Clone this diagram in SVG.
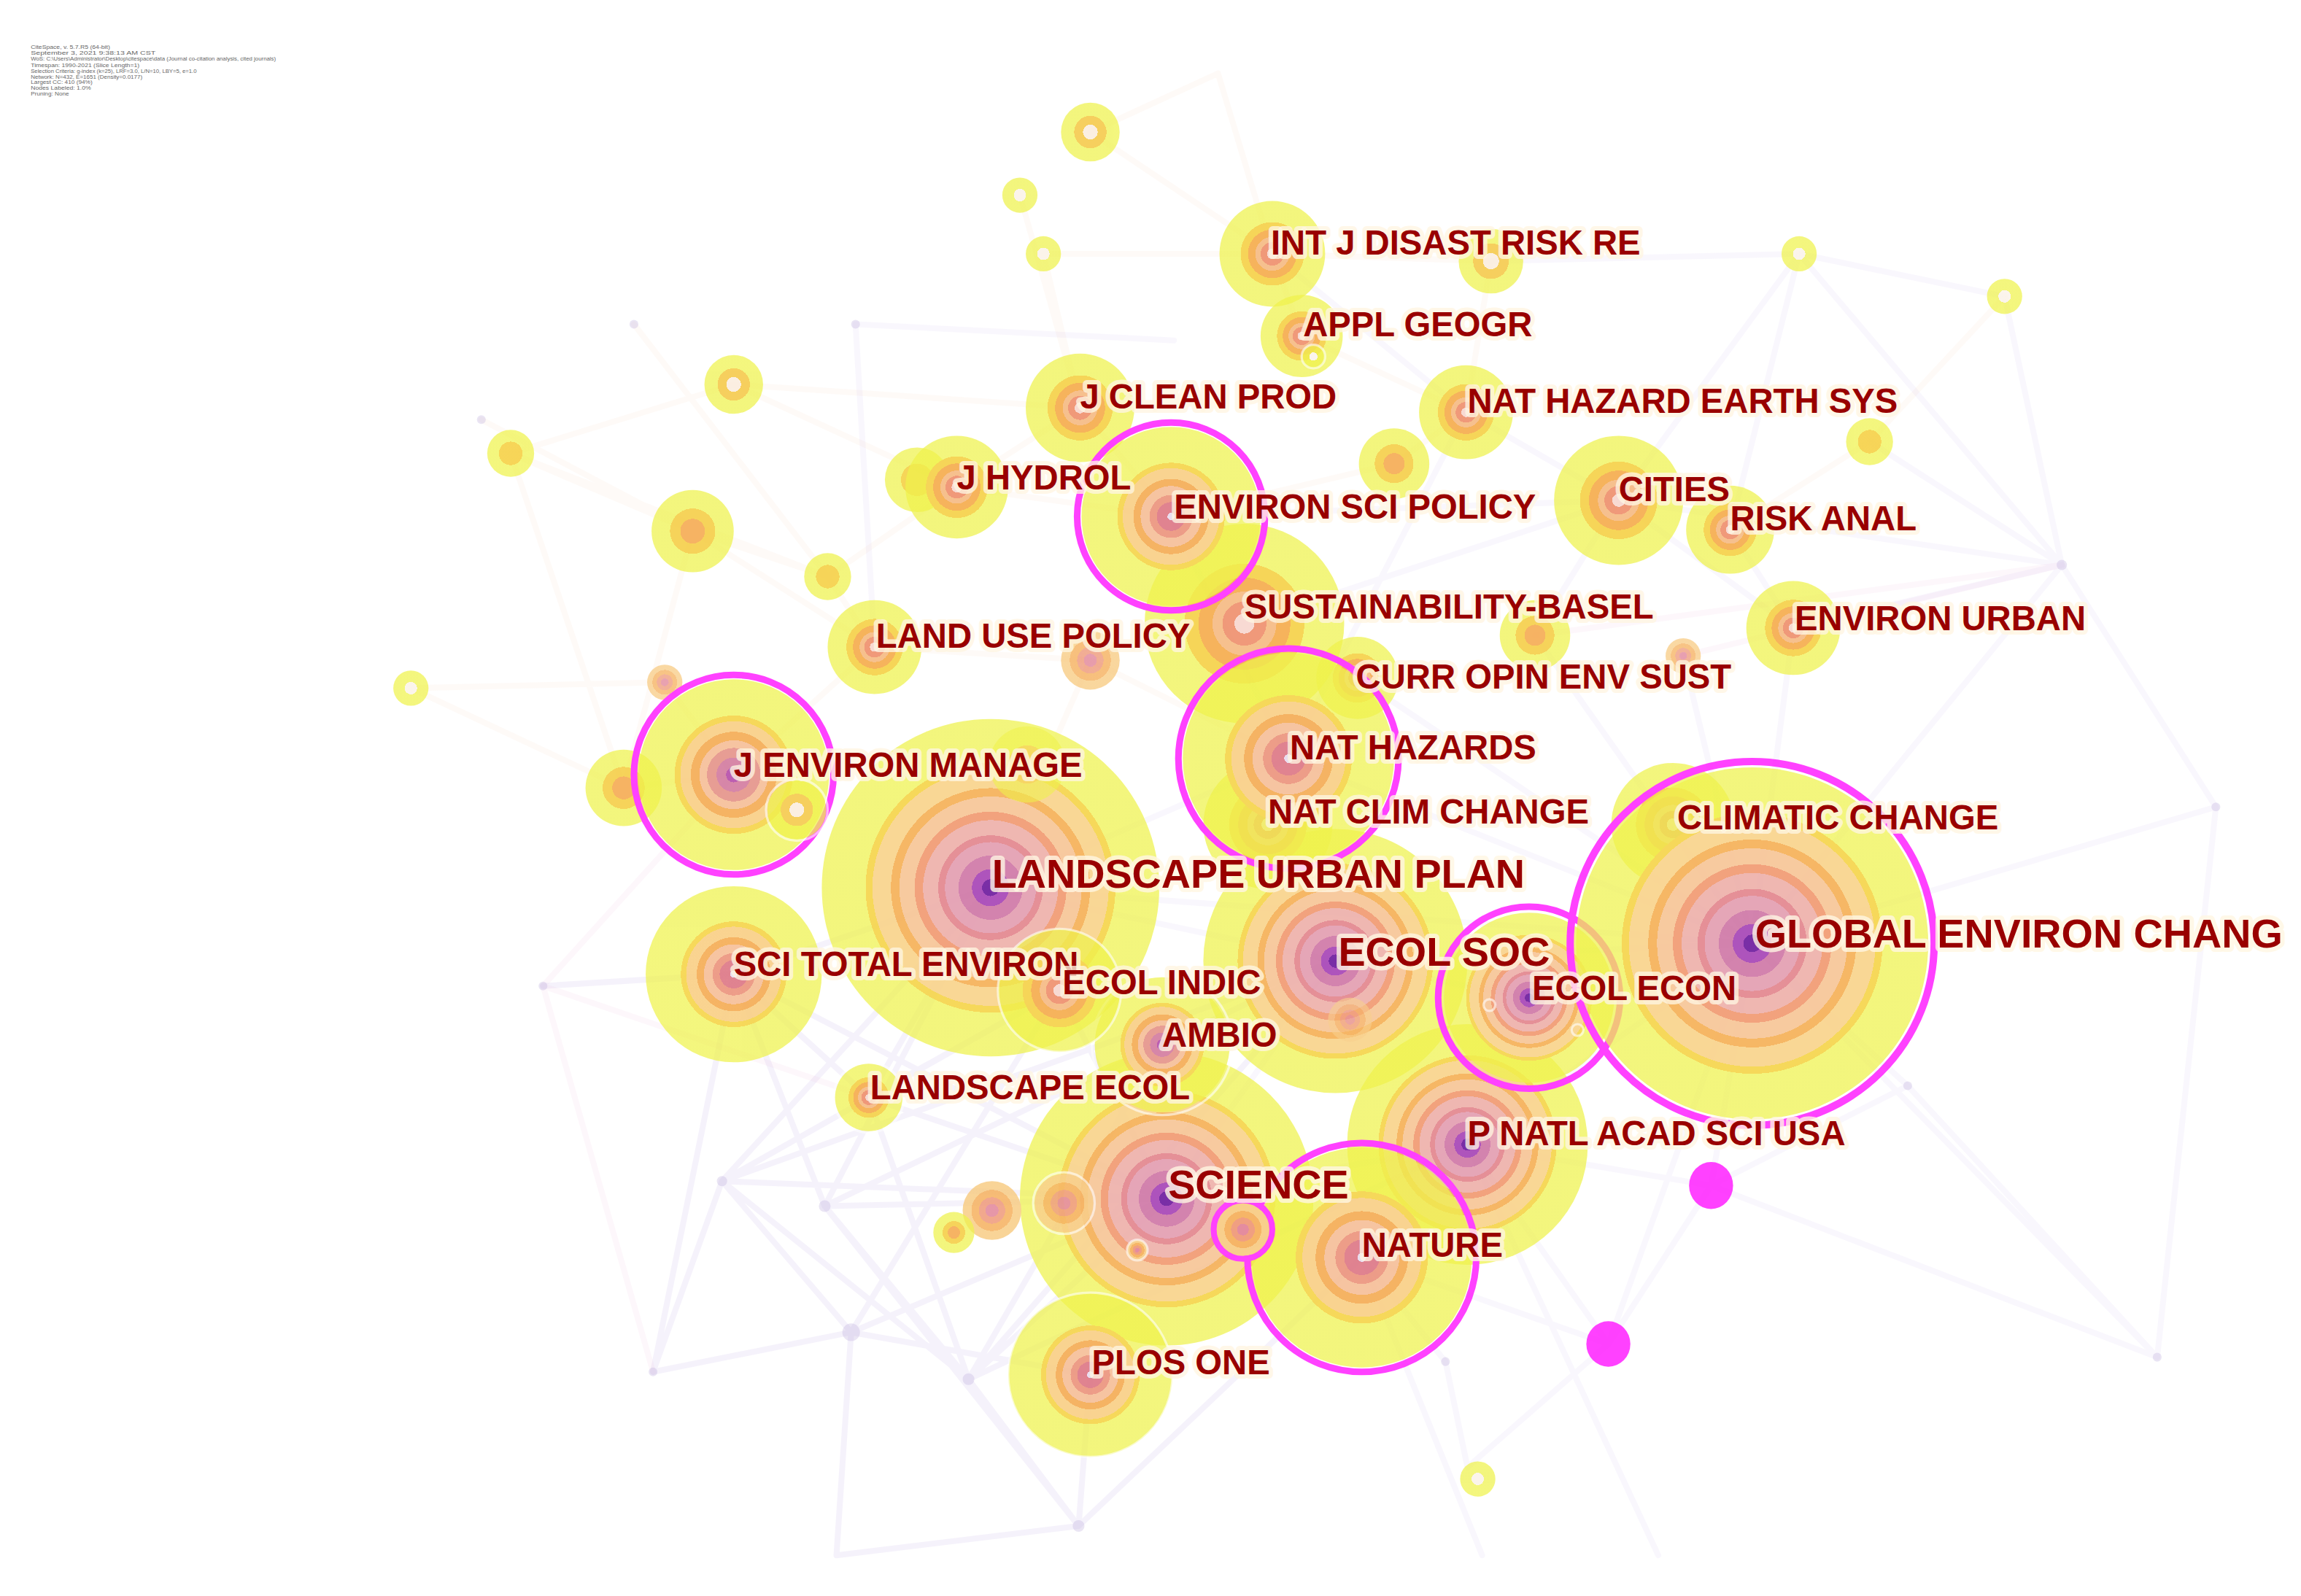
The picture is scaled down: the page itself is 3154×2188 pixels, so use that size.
<svg xmlns="http://www.w3.org/2000/svg" width="3154" height="2188" viewBox="0 0 3154 2188">
<style>
.e{fill:none;stroke-width:4;stroke-linecap:round}
.lav{stroke:#c4b4ea;stroke-opacity:.1}
.lav2{stroke:#bcaae6;stroke-opacity:.15}
.pch{stroke:#f6d6b4;stroke-opacity:.11}
.pnk{stroke:#f0b4d4;stroke-opacity:.1}
.jd{fill:#bba9dc;fill-opacity:.3}
.ring{fill:none;stroke:#ff33ff}
.wr{fill:none;stroke:#ffffff;stroke-opacity:.6;stroke-width:1.6}
.mag{fill:#ff33ff}
.nd{opacity:.93}
.lbl{font-family:"Liberation Sans",Arial,sans-serif;font-weight:bold;fill:#990000;stroke:#fff6e2;stroke-opacity:.8;stroke-width:6;stroke-linejoin:round;paint-order:stroke}
.s{font-size:23.5px}
.b{font-size:27.7px}
.hd{font-family:"Liberation Sans",Arial,sans-serif;font-size:3.6px;fill:#666}
</style>
<defs>
<radialGradient id="gOld">
<stop offset="0" stop-color="#7020a0"/><stop offset=".05" stop-color="#7020a0"/>
<stop offset=".05" stop-color="#a848b8"/><stop offset=".11" stop-color="#a848b8"/>
<stop offset=".11" stop-color="#d07aa8"/><stop offset=".19" stop-color="#d07aa8"/>
<stop offset=".19" stop-color="#e4a0b2"/><stop offset=".27" stop-color="#e4a0b2"/>
<stop offset=".27" stop-color="#e48890"/><stop offset=".31" stop-color="#e48890"/>
<stop offset=".31" stop-color="#eeb2ac"/><stop offset=".4" stop-color="#eeb2ac"/>
<stop offset=".4" stop-color="#f29c74"/><stop offset=".45" stop-color="#f29c74"/>
<stop offset=".45" stop-color="#f7c698"/><stop offset=".54" stop-color="#f7c698"/>
<stop offset=".54" stop-color="#f6b25a"/><stop offset=".59" stop-color="#f6b25a"/>
<stop offset=".59" stop-color="#f9d48e"/><stop offset=".7" stop-color="#f9d48e"/>
<stop offset=".7" stop-color="#f6d64e"/><stop offset=".74" stop-color="#f6d64e"/>
<stop offset=".74" stop-color="#eef23e" stop-opacity=".72"/><stop offset="1" stop-color="#eef23e" stop-opacity=".72"/>
</radialGradient>
<radialGradient id="gMid">
<stop offset="0" stop-color="#eadcf0"/><stop offset=".04" stop-color="#eadcf0"/>
<stop offset=".04" stop-color="#de7a88"/><stop offset=".16" stop-color="#de7a88"/>
<stop offset=".16" stop-color="#ec9680"/><stop offset=".24" stop-color="#ec9680"/>
<stop offset=".24" stop-color="#f6c09a"/><stop offset=".34" stop-color="#f6c09a"/>
<stop offset=".34" stop-color="#f5ae58"/><stop offset=".42" stop-color="#f5ae58"/>
<stop offset=".42" stop-color="#f9d088"/><stop offset=".54" stop-color="#f9d088"/>
<stop offset=".54" stop-color="#f6d64e"/><stop offset=".6" stop-color="#f6d64e"/>
<stop offset=".6" stop-color="#eef23e" stop-opacity=".72"/><stop offset="1" stop-color="#eef23e" stop-opacity=".72"/>
</radialGradient>
<radialGradient id="gMidP">
<stop offset="0" stop-color="#b852ac"/><stop offset=".08" stop-color="#b852ac"/>
<stop offset=".08" stop-color="#d47ea2"/><stop offset=".18" stop-color="#d47ea2"/>
<stop offset=".18" stop-color="#e6968c"/><stop offset=".28" stop-color="#e6968c"/>
<stop offset=".28" stop-color="#f6c09a"/><stop offset=".36" stop-color="#f6c09a"/>
<stop offset=".36" stop-color="#f5ae58"/><stop offset=".45" stop-color="#f5ae58"/>
<stop offset=".45" stop-color="#f9d088"/><stop offset=".56" stop-color="#f9d088"/>
<stop offset=".56" stop-color="#f6d64e"/><stop offset=".62" stop-color="#f6d64e"/>
<stop offset=".62" stop-color="#eef23e" stop-opacity=".72"/><stop offset="1" stop-color="#eef23e" stop-opacity=".72"/>
</radialGradient>
<radialGradient id="gYoung">
<stop offset="0" stop-color="#f8d8d0"/><stop offset=".1" stop-color="#f8d8d0"/>
<stop offset=".1" stop-color="#ef9270"/><stop offset=".22" stop-color="#ef9270"/>
<stop offset=".22" stop-color="#f6bc86"/><stop offset=".32" stop-color="#f6bc86"/>
<stop offset=".32" stop-color="#f6ae50"/><stop offset=".46" stop-color="#f6ae50"/>
<stop offset=".46" stop-color="#f6d24c"/><stop offset=".6" stop-color="#f6d24c"/>
<stop offset=".6" stop-color="#eef23e" stop-opacity=".72"/><stop offset="1" stop-color="#eef23e" stop-opacity=".72"/>
</radialGradient>
<radialGradient id="gSO">
<stop offset="0" stop-color="#f6d24c"/><stop offset=".5" stop-color="#f6d24c"/>
<stop offset=".5" stop-color="#eef23e" stop-opacity=".72"/><stop offset="1" stop-color="#eef23e" stop-opacity=".72"/>
</radialGradient>
<radialGradient id="gSOO">
<stop offset="0" stop-color="#f6ae58"/><stop offset=".3" stop-color="#f6ae58"/>
<stop offset=".3" stop-color="#f6d04e"/><stop offset=".55" stop-color="#f6d04e"/>
<stop offset=".55" stop-color="#eef23e" stop-opacity=".72"/><stop offset="1" stop-color="#eef23e" stop-opacity=".72"/>
</radialGradient>
<radialGradient id="gSW">
<stop offset="0" stop-color="#fbf4ea"/><stop offset=".35" stop-color="#fbf4ea"/>
<stop offset=".35" stop-color="#eef23e" stop-opacity=".72"/><stop offset="1" stop-color="#eef23e" stop-opacity=".72"/>
</radialGradient>
<radialGradient id="gSWO">
<stop offset="0" stop-color="#fbeee0"/><stop offset=".25" stop-color="#fbeee0"/>
<stop offset=".25" stop-color="#f6cc52"/><stop offset=".55" stop-color="#f6cc52"/>
<stop offset=".55" stop-color="#eef23e" stop-opacity=".72"/><stop offset="1" stop-color="#eef23e" stop-opacity=".72"/>
</radialGradient>
<radialGradient id="gOP">
<stop offset="0" stop-color="#e28498"/><stop offset=".22" stop-color="#e28498"/>
<stop offset=".22" stop-color="#ef9878"/><stop offset=".45" stop-color="#ef9878"/>
<stop offset=".45" stop-color="#f6b05c"/><stop offset=".7" stop-color="#f6b05c"/>
<stop offset=".7" stop-color="#f8cc84"/><stop offset="1" stop-color="#f8cc84"/>
</radialGradient>
</defs>
<rect width="3154" height="2188" fill="#ffffff"/>
<g transform="scale(2.01148)">
<g id="header">
<text class="hd" x="21" y="33.3" textLength="54" lengthAdjust="spacingAndGlyphs">CiteSpace, v. 5.7.R5 (64-bit)</text>
<text class="hd" x="21" y="37.3" textLength="85" lengthAdjust="spacingAndGlyphs">September 3, 2021 9:38:13 AM CST</text>
<text class="hd" x="21" y="41.5" textLength="167" lengthAdjust="spacingAndGlyphs">WoS: C:\Users\Administrator\Desktop\citespace\data (Journal co-citation analysis, cited journals)</text>
<text class="hd" x="21" y="45.6" textLength="74" lengthAdjust="spacingAndGlyphs">Timespan: 1990-2021 (Slice Length=1)</text>
<text class="hd" x="21" y="49.6" textLength="113" lengthAdjust="spacingAndGlyphs">Selection Criteria: g-index (k=25), LRF=3.0, L/N=10, LBY=5, e=1.0</text>
<text class="hd" x="21" y="53.6" textLength="76" lengthAdjust="spacingAndGlyphs">Network: N=432, E=1651 (Density=0.0177)</text>
<text class="hd" x="21" y="57.3" textLength="42" lengthAdjust="spacingAndGlyphs">Largest CC: 410 (94%)</text>
<text class="hd" x="21" y="61.1" textLength="41" lengthAdjust="spacingAndGlyphs">Nodes Labeled: 1.0%</text>
<text class="hd" x="21" y="65" textLength="26" lengthAdjust="spacingAndGlyphs">Pruning: None</text>
</g>
<g id="connectors">
<path class="e lav2" d="M562 822L660 940M562 822L735 1040M562 822L795 817M562 822L675 605M562 822L500 664M492 805L580 908M492 805L660 940M492 805L675 605M492 805L722 675M492 805L795 817M580 908L795 817M580 908L743 937M580 908L570 1060M580 908L445 935M660 940L795 817M660 940L735 1040M660 940L592 748M660 940L910 655M735 1040L743 937M735 1040L928 857M735 1040L570 1060M445 935L492 805M445 935L500 664M370 672L500 664M592 748L795 817M592 748L675 605M592 748L722 675M592 748L500 664M500 664L795 817M500 664L675 605M722 675L795 817M792 712L660 940M580 908L722 675M562 822L910 655M660 940L1000 780M492 805L910 655"/>
<path class="e lav" d="M1405 385L1222 428M1405 385L1194 643M1405 385L1103 341M1405 385L1226 173M1405 385L1366 202M1405 385L1274 301M1405 385L1510 550M1226 173L1103 341M1226 173L1179 361M1226 173L1366 202M1510 550L1194 643M1510 550L1470 925M1470 925L1194 643M1470 925L1166 808M1300 740L1470 925M1300 740L1194 643M1166 808L1000 780M1166 808L1194 643M1166 808L1096 916M1096 916L928 857M1096 916L1000 780M1096 916L1194 643M985 928L928 857M985 928L1000 1000M1000 1000L1096 916M1000 780L1130 1060M928 857L1010 1060M1300 740L1166 808"/>
<path class="e lav" d="M675 605L910 655M675 605L1194 643M910 655L1194 643M910 655L1042 680M795 817L1000 780M795 817L910 655M1000 780L1194 643M878 517L1194 643M878 517L675 605M798 352L878 517M798 352L1103 341M848 425L1103 341M1103 341L1222 428M1222 428L1194 643M1046 433L1194 643M925 462L1194 643M1147 447L1194 643M1046 433L1103 341M999 281L1103 341M999 281L878 517M1179 361L1222 428M583 221L800 232M583 221L596 441M867 173L999 281M1016 178L1226 173"/>
<path class="e pch" d="M348 309L500 262M348 309L472 362M348 309L564 393M500 262L652 332M472 362L564 393M472 362L596 441M564 393L652 332M564 393L596 441M280 469L453 465M280 469L425 537M453 465L500 528M425 537L500 528M425 537L472 362M348 309L425 537M500 262L736 278M596 441L743 450M596 441L500 528M743 450L878 517M743 450L675 605M432 221L564 393M328 286L472 362M867 173L1016 178M867 173L887 229M743 90L867 173M695 133L736 278M711 173L736 278M711 173L867 173M743 90L830 50M1016 178L999 281M887 229L999 281M736 278L798 352M652 332L798 352M652 332L736 278M950 316L798 352M950 316L999 281M1274 301L1179 361M1366 202L1274 301M830 50L867 173"/>
<path class="e pnk" d="M370 672L592 748M445 935L370 672M1405 385L1046 433M1405 385L1147 447M370 672L500 528"/>
<circle class="jd" cx="1405" cy="385" r="3.5"/><circle class="jd" cx="580" cy="908" r="6"/><circle class="jd" cx="660" cy="940" r="4"/><circle class="jd" cx="562" cy="822" r="4"/><circle class="jd" cx="492" cy="805" r="3.5"/><circle class="jd" cx="735" cy="1040" r="4"/><circle class="jd" cx="445" cy="935" r="3"/><circle class="jd" cx="370" cy="672" r="3"/><circle class="jd" cx="1300" cy="740" r="3"/><circle class="jd" cx="985" cy="928" r="3"/><circle class="jd" cx="1510" cy="550" r="3"/><circle class="jd" cx="1470" cy="925" r="3"/><circle class="jd" cx="583" cy="221" r="3"/><circle class="jd" cx="432" cy="221" r="3"/><circle class="jd" cx="328" cy="286" r="3"/>
</g>
<g id="nodes" class="nd">
<g id="n-landscape-urban-plan"><circle cx="675" cy="605" r="115" fill="url(#gOld)"/></g>
<g id="n-science"><circle cx="795" cy="817" r="100" fill="url(#gOld)"/></g>
<g id="n-ecol-soc"><circle cx="910" cy="655" r="90" fill="url(#gOld)"/></g>
<g id="n-pnas"><circle cx="1000" cy="780" r="82" fill="url(#gOld)"/></g>
<g id="n-sustainability"><circle cx="848" cy="425" r="68" fill="url(#gYoung)"/></g>
<g id="n-sci-total-environ"><circle cx="500" cy="664" r="60" fill="url(#gMid)"/></g>
<g id="n-plos-one"><circle cx="743" cy="937" r="56" fill="url(#gMid)"/><circle class="wr" cx="743" cy="937" r="56"/></g>
<g id="n-climatic-change"><circle cx="1140" cy="562" r="42" fill="url(#gYoung)"/></g>
<g id="n-nat-clim-change"><circle cx="864" cy="562" r="44" fill="url(#gYoung)"/></g>
<g id="n-ambio"><circle cx="792" cy="712" r="46" fill="url(#gMidP)"/><circle class="wr" cx="792" cy="712" r="48"/></g>
<g id="n-ecol-indic"><circle cx="722" cy="675" r="42" fill="url(#gYoung)"/><circle class="wr" cx="722" cy="675" r="42"/></g>
<g id="n-cities"><circle cx="1103" cy="341" r="44" fill="url(#gYoung)"/></g>
<g id="n-j-clean-prod"><circle cx="736" cy="278" r="37" fill="url(#gYoung)"/></g>
<g id="n-int-j-disast-risk-re"><circle cx="867" cy="173" r="36" fill="url(#gYoung)"/></g>
<g id="n-j-hydrol"><circle cx="625" cy="327" r="22" fill="url(#gSO)"/><circle cx="652" cy="332" r="35" fill="url(#gYoung)"/></g>
<g id="n-nat-hazard-earth-sys"><circle cx="999" cy="281" r="32" fill="url(#gYoung)"/></g>
<g id="n-environ-urban"><circle cx="1222" cy="428" r="32" fill="url(#gYoung)"/></g>
<g id="n-land-use-policy"><circle cx="596" cy="441" r="32" fill="url(#gYoung)"/></g>
<g id="n-risk-anal"><circle cx="1179" cy="361" r="30" fill="url(#gYoung)"/></g>
<g id="n-appl-geogr"><circle cx="887" cy="229" r="28" fill="url(#gYoung)"/><circle cx="895" cy="243" r="8" fill="url(#gSW)"/><circle class="wr" cx="895" cy="243" r="8"/></g>
<g id="n-curr-opin-env-sust"><circle cx="925" cy="462" r="28" fill="url(#gYoung)"/></g>
<g id="n-landscape-ecol"><circle cx="592" cy="748" r="23" fill="url(#gYoung)"/><circle class="wr" cx="592" cy="748" r="24"/></g>
<g id="n-s1"><circle cx="743" cy="90" r="20" fill="url(#gSWO)"/></g>
<g id="n-s2"><circle cx="695" cy="133" r="12" fill="url(#gSW)"/></g>
<g id="n-s3"><circle cx="711" cy="173" r="12" fill="url(#gSW)"/></g>
<g id="n-s4"><circle cx="500" cy="262" r="20" fill="url(#gSWO)"/></g>
<g id="n-s5"><circle cx="348" cy="309" r="16" fill="url(#gSO)"/></g>
<g id="n-s6"><circle cx="472" cy="362" r="28" fill="url(#gSOO)"/></g>
<g id="n-s7"><circle cx="564" cy="393" r="16" fill="url(#gSO)"/></g>
<g id="n-s8"><circle cx="280" cy="469" r="12" fill="url(#gSW)"/></g>
<g id="n-s9"><circle cx="453" cy="465" r="12" fill="url(#gOP)" fill-opacity=".8"/></g>
<g id="n-s10"><circle cx="425" cy="537" r="26" fill="url(#gSOO)"/></g>
<g id="n-s11"><circle cx="743" cy="450" r="20" fill="url(#gOP)" fill-opacity=".85"/></g>
<g id="n-s12"><circle cx="950" cy="316" r="24" fill="url(#gSOO)"/></g>
<g id="n-s13"><circle cx="1016" cy="178" r="22" fill="url(#gSWO)"/></g>
<g id="n-s14"><circle cx="1226" cy="173" r="12" fill="url(#gSW)"/></g>
<g id="n-s15"><circle cx="1366" cy="202" r="12" fill="url(#gSW)"/></g>
<g id="n-s16"><circle cx="1274" cy="301" r="16" fill="url(#gSO)"/></g>
<g id="n-s17"><circle cx="1046" cy="433" r="24" fill="url(#gSOO)"/></g>
<g id="n-s18"><circle cx="1147" cy="447" r="12" fill="url(#gOP)" fill-opacity=".8"/></g>
<g id="n-s19"><circle cx="1007" cy="1008" r="12" fill="url(#gSW)"/></g>
<g id="n-s20"><circle cx="676" cy="825" r="20" fill="url(#gOP)" fill-opacity=".9"/></g>
<g id="n-s21"><circle cx="725" cy="820" r="20" fill="url(#gOP)" fill-opacity=".85"/><circle class="wr" cx="725" cy="820" r="21"/></g>
<g id="n-s22"><circle cx="650" cy="840" r="14" fill="url(#gSOO)"/></g>
<g id="n-s23"><circle cx="775" cy="852" r="7" fill="url(#gOP)"/><circle class="wr" cx="775" cy="852" r="7"/></g>
<g id="n-s24"><circle cx="700" cy="521" r="26" fill="url(#gSO)" fill-opacity=".8"/></g>
<g id="n-s25"><circle cx="920" cy="695" r="15" fill="url(#gOP)" fill-opacity=".6"/></g>
<g id="n-nat-hazards"><circle cx="878" cy="517" r="72" fill="url(#gMid)"/><circle class="ring" cx="878" cy="517" r="75" stroke-width="4.5"/></g>
<g id="n-j-environ-manage"><circle cx="500" cy="528" r="65" fill="url(#gMidP)"/><circle class="ring" cx="500" cy="528" r="68" stroke-width="4.5"/><circle cx="543" cy="552" r="20" fill="url(#gSWO)"/><circle class="wr" cx="543" cy="552" r="21"/></g>
<g id="n-environ-sci-policy"><circle cx="798" cy="352" r="61" fill="url(#gMid)"/><circle class="ring" cx="798" cy="352" r="64" stroke-width="4.5"/></g>
<g id="n-nature"><circle cx="928" cy="857" r="75" fill="url(#gMid)"/><circle class="ring" cx="928" cy="857" r="78" stroke-width="4.5"/></g>
<g id="n-s26"><circle cx="847" cy="838" r="18" fill="url(#gOP)"/><circle class="ring" cx="847" cy="838" r="20" stroke-width="4"/></g>
<g id="n-ecol-econ"><circle cx="1042" cy="680" r="58" fill="url(#gOld)"/><circle class="ring" cx="1042" cy="680" r="62" stroke-width="4.5"/><circle class="wr" cx="1015" cy="685" r="4"/><circle class="wr" cx="1075" cy="702" r="4"/></g>
<g id="n-global-environ-chang"><circle cx="1194" cy="643" r="120" fill="url(#gOld)"/><circle class="ring" cx="1194" cy="643" r="124" stroke-width="5"/></g>
<g id="n-m1"><ellipse class="mag" cx="1166" cy="808" rx="15" ry="16"/></g>
<g id="n-m2"><ellipse class="mag" cx="1096" cy="916" rx="15" ry="15.5"/></g>
</g>
<g id="labels">
<text class="lbl s" x="866" y="173.4">INT J DISAST RISK RE</text>
<text class="lbl s" x="888" y="229.4">APPL GEOGR</text>
<text class="lbl s" x="736" y="278.4">J CLEAN PROD</text>
<text class="lbl s" x="1000" y="281.4">NAT HAZARD EARTH SYS</text>
<text class="lbl s" x="652" y="333.4">J HYDROL</text>
<text class="lbl s" x="800" y="353.4">ENVIRON SCI POLICY</text>
<text class="lbl s" x="1103" y="341.4">CITIES</text>
<text class="lbl s" x="1179" y="361.4">RISK ANAL</text>
<text class="lbl s" x="848" y="421.4">SUSTAINABILITY-BASEL</text>
<text class="lbl s" x="1223" y="429.4">ENVIRON URBAN</text>
<text class="lbl s" x="597" y="441.4">LAND USE POLICY</text>
<text class="lbl s" x="924" y="469.4">CURR OPIN ENV SUST</text>
<text class="lbl s" x="879" y="517.4">NAT HAZARDS</text>
<text class="lbl s" x="500" y="529.4">J ENVIRON MANAGE</text>
<text class="lbl s" x="864" y="561.4">NAT CLIM CHANGE</text>
<text class="lbl s" x="1143" y="565.4">CLIMATIC CHANGE</text>
<text class="lbl b" x="676" y="605">LANDSCAPE URBAN PLAN</text>
<text class="lbl b" x="1196" y="646">GLOBAL ENVIRON CHANG</text>
<text class="lbl b" x="912" y="658">ECOL SOC</text>
<text class="lbl s" x="500" y="665.4">SCI TOTAL ENVIRON</text>
<text class="lbl s" x="724" y="677.4">ECOL INDIC</text>
<text class="lbl s" x="1044" y="681.4">ECOL ECON</text>
<text class="lbl s" x="792" y="713.4">AMBIO</text>
<text class="lbl s" x="593" y="749.4">LANDSCAPE ECOL</text>
<text class="lbl s" x="1000" y="780.4">P NATL ACAD SCI USA</text>
<text class="lbl b" x="796" y="817">SCIENCE</text>
<text class="lbl s" x="928" y="856.4">NATURE</text>
<text class="lbl s" x="744" y="936.4">PLOS ONE</text>
</g>
</g>
</svg>
